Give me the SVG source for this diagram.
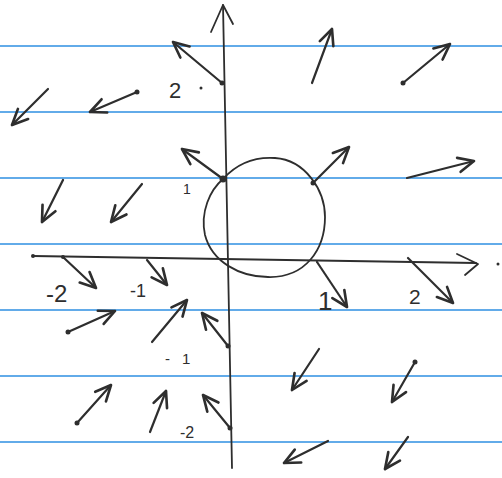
<svg xmlns="http://www.w3.org/2000/svg" width="502" height="478" viewBox="0 0 502 478">
<style>
.rule{stroke:#62abe9;stroke-width:2;fill:none}
.ax{stroke:#2e2e2e;stroke-width:1.8;fill:none;stroke-linecap:round;stroke-linejoin:round}
.v{stroke:#2e2e2e;stroke-width:2.2;fill:none;stroke-linecap:round;marker-end:url(#ah)}
.dot{fill:#2e2e2e}
.lbl{font-family:"Liberation Sans",Arial,sans-serif;fill:#2e2e2e}
</style>
<defs>
<marker id="ah" markerUnits="userSpaceOnUse" markerWidth="24" markerHeight="24" viewBox="-16 -10 20 20" refX="0" refY="0" orient="auto" overflow="visible">
<path d="M-13,-6 L0,0 L-13,6" fill="none" stroke="#2e2e2e" stroke-width="2.2" stroke-linecap="round" stroke-linejoin="round"/>
</marker>
</defs>
<rect width="502" height="478" fill="#ffffff"/>
<g id="paper">
<line class="rule" x1="0" y1="46" x2="502" y2="46"/>
<line class="rule" x1="0" y1="112" x2="502" y2="112"/>
<line class="rule" x1="0" y1="178" x2="502" y2="178"/>
<line class="rule" x1="0" y1="244" x2="502" y2="244"/>
<line class="rule" x1="0" y1="310" x2="502" y2="310"/>
<line class="rule" x1="0" y1="376" x2="502" y2="376"/>
<line class="rule" x1="0" y1="442" x2="502" y2="442"/>
</g>
<g id="axes">
<path class="ax" d="M223,5 L232,468"/>
<path class="ax" d="M211,32 L223,5 L233,24"/>
<path class="ax" d="M33,256 L476,263"/>
<path class="ax" d="M457,254 L478,264 L465,275"/>
<circle class="dot" cx="498" cy="264" r="1.5"/>
</g>
<g id="circle">
<path class="ax" stroke-width="2.2" d="M223,179 C240,160 260,157 275,158 C305,160 325,190 325,217 C325,250 305,278 268,277 C240,277 212,262 205,235 C200,212 210,190 223,179 Z"/>
<circle class="dot" cx="223" cy="179" r="3.5"/>
<circle class="dot" cx="313" cy="183" r="2.5"/>
</g>
<g id="vectors">
<path class="v" d="M222,83 L173,42"/>
<path class="v" d="M312,83 L332,29"/>
<path class="v" d="M403,83 L450,44"/>
<path class="v" d="M48,89 L12,125"/>
<path class="v" d="M137,92 L90,112"/>
<path class="v" d="M63,180 L42,222"/>
<path class="v" d="M142,184 L111,222"/>
<path class="v" d="M223,179 L182,149"/>
<path class="v" d="M313,183 L349,147"/>
<path class="v" d="M407,178 L474,161"/>
<path class="v" d="M63,257 L96,288"/>
<path class="v" d="M147,260 L167,285"/>
<path class="v" d="M317,262 L347,307"/>
<path class="v" d="M408,258 L453,303"/>
<path class="v" d="M68,332 L115,311"/>
<path class="v" d="M152,342 L187,300"/>
<path class="v" d="M228,346 L202,313"/>
<path class="v" d="M319,349 L292,390"/>
<path class="v" d="M415,362 L392,402"/>
<path class="v" d="M77,423 L111,385"/>
<path class="v" d="M150,432 L166,391"/>
<path class="v" d="M230,428 L203,395"/>
<path class="v" d="M328,441 L284,463"/>
<path class="v" d="M408,437 L385,469"/>
<circle class="dot" cx="222" cy="83" r="2.5"/>
<circle class="dot" cx="403" cy="83" r="2.5"/>
<circle class="dot" cx="137" cy="92" r="2.5"/>
<circle class="dot" cx="63" cy="257" r="2"/>
<circle class="dot" cx="68" cy="332" r="2.5"/>
<circle class="dot" cx="228" cy="346" r="2.5"/>
<circle class="dot" cx="415" cy="362" r="2.5"/>
<circle class="dot" cx="77" cy="423" r="2.5"/>
<circle class="dot" cx="230" cy="428" r="2.5"/>
<circle class="dot" cx="33" cy="256" r="2"/>
</g>
<g id="labels">
<text class="lbl" x="169" y="98" font-size="22">2</text>
<circle class="dot" cx="201" cy="88" r="1.5"/>
<text class="lbl" x="183" y="194" font-size="14">1</text>
<text class="lbl" x="46" y="302" font-size="24">-2</text>
<text class="lbl" x="130" y="297" font-size="18">-1</text>
<text class="lbl" x="165" y="364" font-size="15" letter-spacing="12">-1</text>
<text class="lbl" x="180" y="438" font-size="16">-2</text>
<text class="lbl" x="318" y="310" font-size="26">1</text>
<text class="lbl" x="409" y="304" font-size="21">2</text>
</g>
</svg>
